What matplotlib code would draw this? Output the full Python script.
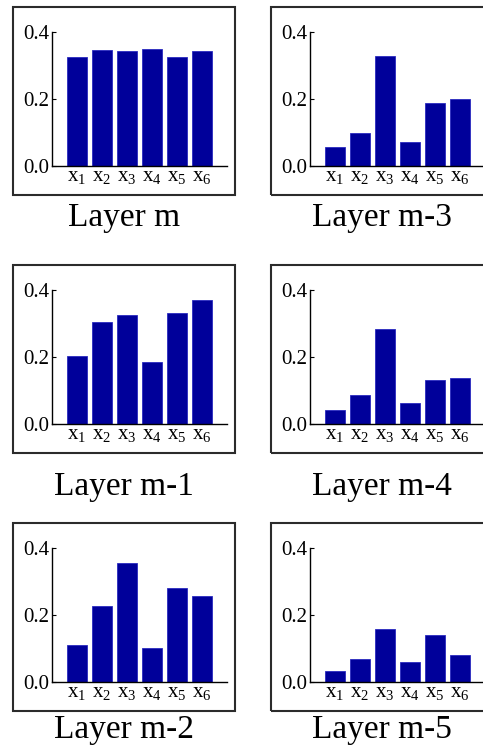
import matplotlib.pyplot as plt
from matplotlib.patches import Rectangle

plt.rcParams['font.family'] = ['Liberation Serif', 'DejaVu Serif']
plt.rcParams['mathtext.fontset'] = 'custom'
plt.rcParams['mathtext.rm'] = 'Liberation Serif'
plt.rcParams['mathtext.it'] = 'Liberation Serif'

# data
categories = [r'$\mathrm{x}_{1}$', r'$\mathrm{x}_{2}$', r'$\mathrm{x}_{3}$',
              r'$\mathrm{x}_{4}$', r'$\mathrm{x}_{5}$', r'$\mathrm{x}_{6}$']
titles = ['Layer m', 'Layer m-3', 'Layer m-1', 'Layer m-4', 'Layer m-2', 'Layer m-5']
layer_m = [0.324, 0.345, 0.343, 0.350, 0.326, 0.343]
layer_m3 = [0.057, 0.098, 0.327, 0.072, 0.187, 0.200]
layer_m1 = [0.204, 0.303, 0.325, 0.184, 0.331, 0.371]
layer_m4 = [0.043, 0.086, 0.284, 0.063, 0.132, 0.137]
layer_m2 = [0.111, 0.226, 0.356, 0.102, 0.282, 0.257]
layer_m5 = [0.033, 0.068, 0.157, 0.061, 0.139, 0.081]
series = [layer_m, layer_m3, layer_m1, layer_m4, layer_m2, layer_m5]
yticks = [0.0, 0.2, 0.4]

W, H = 483, 747
fig = plt.figure(figsize=(W / 100, H / 100), dpi=100)

# pixel layout of each panel (from top-left of image)
box_left = [13, 271]
box_width = 222
box_top = [7, 265, 523]
box_height = 188
title_base = [226, 495, 738]
ax_left_off = 39     # spine x relative to box left
ax_width = 175
ax_top_off = 25      # 0.4 level relative to box top
ax_bot_off = 159     # 0.0 level relative to box top

bar_color = '#00009a'

for i, (vals, title) in enumerate(zip(series, titles)):
    row, col = divmod(i, 2)
    bx = box_left[col]
    by = box_top[row]

    # outer frame
    fig.patches.append(Rectangle((bx / W, 1 - (by + box_height) / H),
                                 box_width / W, box_height / H,
                                 transform=fig.transFigure, fill=False,
                                 edgecolor='#2b2b2b', linewidth=1.5))

    ax = fig.add_axes([(bx + ax_left_off) / W, 1 - (by + ax_bot_off) / H,
                       ax_width / W, (ax_bot_off - ax_top_off) / H])
    ax.set_facecolor('none')
    xs = list(range(1, len(vals) + 1))
    ax.bar(xs, vals, width=0.8, color=bar_color, edgecolor='#2a2ac0', linewidth=0.6)
    ax.set_xlim(0, 7)
    ax.set_ylim(0, 0.4)
    ax.set_xticks(xs)
    ax.set_xticklabels(categories, fontsize=15)
    ax.set_yticks(yticks)
    ax.set_yticklabels(['0.0', '0.2', '0.4'], fontsize=15)
    ax.tick_params(axis='x', length=0, pad=1)
    ax.tick_params(axis='y', direction='in', length=3, width=0.8, pad=2)
    for side in ('top', 'right'):
        ax.spines[side].set_visible(False)
    ax.spines['left'].set_linewidth(1.0)
    ax.spines['bottom'].set_linewidth(1.0)

    fig.text((bx + box_width / 2) / W, 1 - title_base[row] / H, title,
             ha='center', va='baseline', fontsize=24)

fig.savefig('out.png', dpi=100)
